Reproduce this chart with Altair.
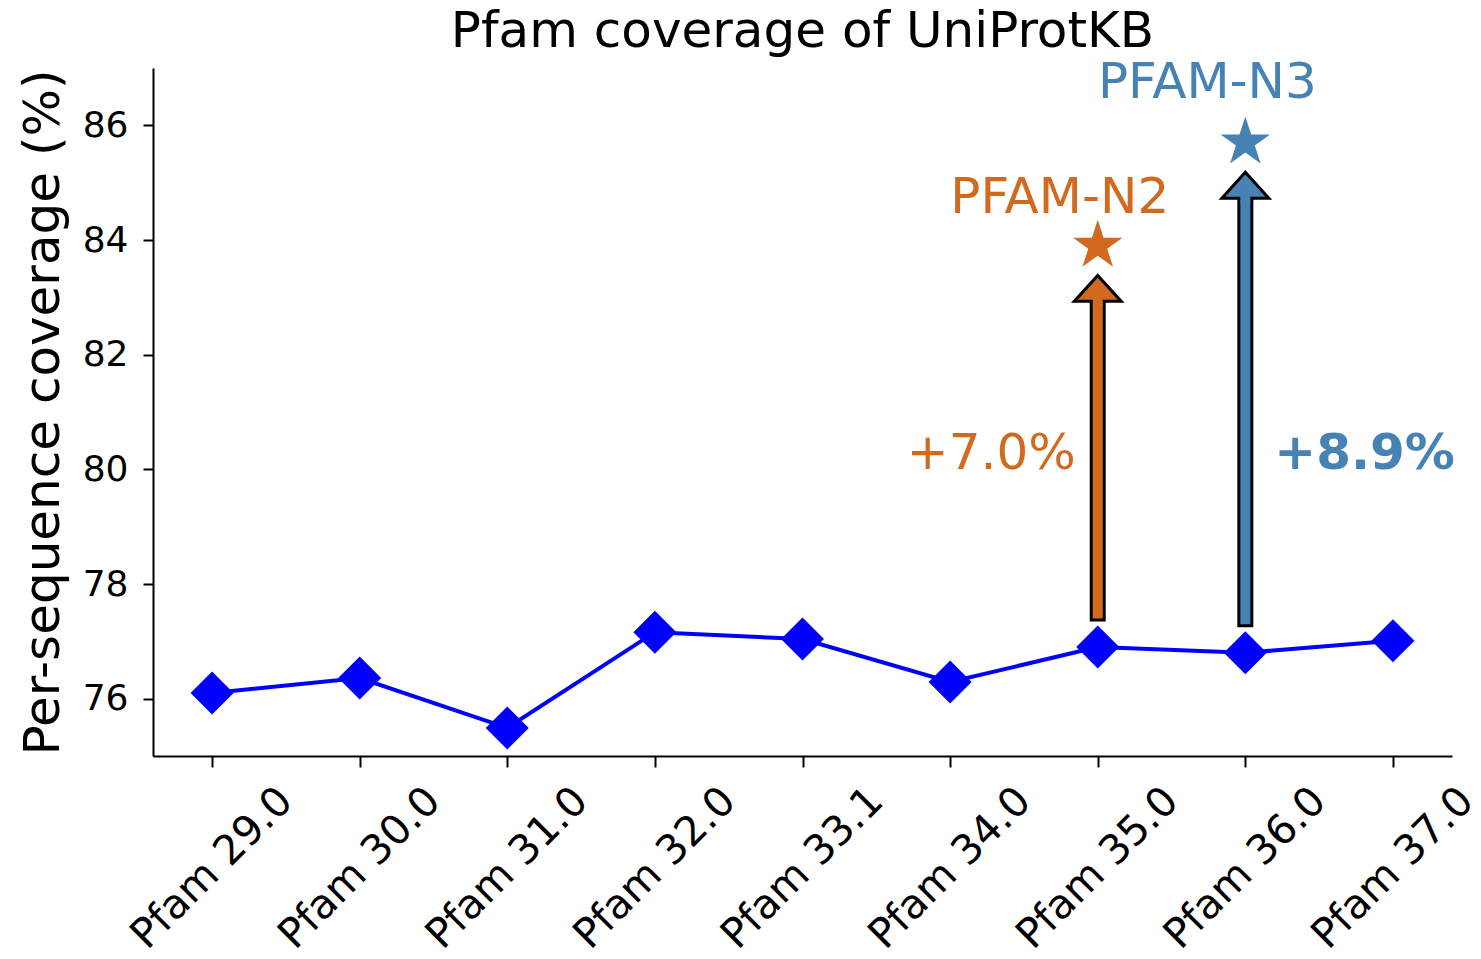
import altair as alt
import pandas as pd

# ---- data ----
versions = ["Pfam 29.0", "Pfam 30.0", "Pfam 31.0", "Pfam 32.0", "Pfam 33.1",
            "Pfam 34.0", "Pfam 35.0", "Pfam 36.0", "Pfam 37.0"]
coverage = [76.10, 76.36, 75.49, 77.16, 77.04, 76.29, 76.90, 76.80, 77.01]

model_names = ["PFAM-N2", "PFAM-N3"]
model_versions = ["Pfam 35.0", "Pfam 36.0"]
model_gain = [7.0, 8.9]
gain_labels = ["+7.0%", "+8.9%"]
model_colors = ["#D2691E", "#4682B4"]
name_label_y = [84.47, 86.48]
gain_label_y = [80.0, 80.0]
y_ticks = [76, 78, 80, 82, 84, 86]
chart_title = "Pfam coverage of UniProtKB"

FONT = "DejaVu Sans"
W, H = 1299, 688

base_cov = [coverage[versions.index(v)] for v in model_versions]
model_cov = [b + g for b, g in zip(base_cov, model_gain)]

df = pd.DataFrame({"version": versions, "coverage": coverage})

arrow_start = [b + 0.47 for b in base_cov]
arrow_tip = [m - 0.50 for m in model_cov]
head_len = 0.49
dm = pd.DataFrame({
    "version": model_versions,
    "name": model_names,
    "gain": gain_labels,
    "color": model_colors,
    "star": model_cov,
    "start": arrow_start,
    "head_base": [t - head_len for t in arrow_tip],
    "head_mid": [t - head_len / 2 for t in arrow_tip],
    "cover_lo": [t - head_len - 0.06 for t in arrow_tip],
    "cover_hi": [t - head_len + 0.08 for t in arrow_tip],
    "name_y": name_label_y,
    "gain_y": gain_label_y,
})
dt = pd.DataFrame({"title": [chart_title]})

STAR = ("M0,-1L0.2245,-0.309L0.951,-0.309L0.363,0.118L0.588,0.809L0,0.382"
        "L-0.588,0.809L-0.363,0.118L-0.951,-0.309L-0.2245,-0.309Z")
HEAD = "M-1,0.55L1,0.55L0,-0.55Z"

xscale = alt.Scale(type="point", domain=versions, padding=0.4)
yscale = alt.Scale(domain=[75, 87], nice=False, zero=False)

x_enc = alt.X("version:N", scale=xscale, sort=versions,
              axis=alt.Axis(title=None, labelAngle=315, labelAlign="center",
                            labelBaseline="middle", labelPadding=101,
                            labelFontSize=41, tickSize=11, labelOverlap=False,
                            labelBound=False, labelFlush=False, labelLimit=0,
                            labelFont=FONT, labelColor="black",
                            domainColor="black", domainWidth=2,
                            tickColor="black", tickWidth=2))
y_axis = alt.Axis(values=y_ticks, format="d", title="Per-sequence coverage (%)",
                  titleFontSize=50, titleFont=FONT, titleColor="black",
                  titleFontWeight="normal", titleX=-95, titleY=H / 2,
                  titleBaseline="alphabetic", titleAngle=270, titleAlign="center",
                  labelFontSize=36, labelFont=FONT, labelColor="black",
                  tickSize=10, labelPadding=15, grid=False,
                  domainColor="black", domainWidth=2,
                  tickColor="black", tickWidth=2)

line = alt.Chart(df).mark_line(color="#0000FF", strokeWidth=4).encode(
    x=x_enc, y=alt.Y("coverage:Q", scale=yscale, axis=y_axis))
pts = alt.Chart(df).mark_point(shape="diamond", filled=True, size=1849,
                               color="#0000FF", opacity=1).encode(
    x=alt.X("version:N", scale=xscale, sort=versions),
    y=alt.Y("coverage:Q", scale=yscale))

xm = alt.X("version:N", scale=xscale, sort=versions)
shaft = alt.Chart(dm).mark_bar(size=13, stroke="black", strokeWidth=3).encode(
    x=xm, y=alt.Y("start:Q", scale=yscale), y2="head_base:Q",
    color=alt.Color("color:N", scale=None))
head = alt.Chart(dm).mark_point(shape=HEAD, filled=True, size=2209, stroke="black",
                                strokeWidth=3, opacity=1).encode(
    x=xm, y=alt.Y("head_mid:Q", scale=yscale),
    fill=alt.Fill("color:N", scale=None))
cover = alt.Chart(dm).mark_bar(size=10).encode(
    x=xm, y=alt.Y("cover_lo:Q", scale=yscale), y2="cover_hi:Q",
    color=alt.Color("color:N", scale=None))
stars = alt.Chart(dm).mark_point(shape=STAR, filled=True, size=2704, opacity=1).encode(
    x=xm, y=alt.Y("star:Q", scale=yscale), color=alt.Color("color:N", scale=None))
names = alt.Chart(dm).mark_text(font=FONT, fontSize=50, baseline="alphabetic",
                                align="center", dx=-38).encode(
    x=xm, y=alt.Y("name_y:Q", scale=yscale), text="name:N",
    color=alt.Color("color:N", scale=None))
gain_n2 = alt.Chart(dm).transform_filter(alt.datum.name == "PFAM-N2").mark_text(
    font=FONT, fontSize=50, baseline="alphabetic", align="right", dx=-22).encode(
    x=xm, y=alt.Y("gain_y:Q", scale=yscale), text="gain:N",
    color=alt.Color("color:N", scale=None))
gain_n3 = alt.Chart(dm).transform_filter(alt.datum.name == "PFAM-N3").mark_text(
    font=FONT, fontSize=50, fontWeight="bold", baseline="alphabetic", align="left",
    dx=29).encode(
    x=xm, y=alt.Y("gain_y:Q", scale=yscale), text="gain:N",
    color=alt.Color("color:N", scale=None))
title = alt.Chart(dt).mark_text(font=FONT, fontSize=50, baseline="alphabetic",
                                align="center", color="black").encode(
    x=alt.value(W / 2), y=alt.value(-21), text="title:N")

chart = alt.layer(line, pts, shaft, head, cover, stars, names, gain_n2, gain_n3,
                  title).properties(
    width=W, height=H,
    autosize=alt.AutoSizeParams(type="none"),
    padding={"left": 145, "top": 60, "right": 21, "bottom": 195},
    background="white",
).configure_view(stroke=None)

chart.save("out.html", embed_options={"renderer": "svg", "actions": False})
